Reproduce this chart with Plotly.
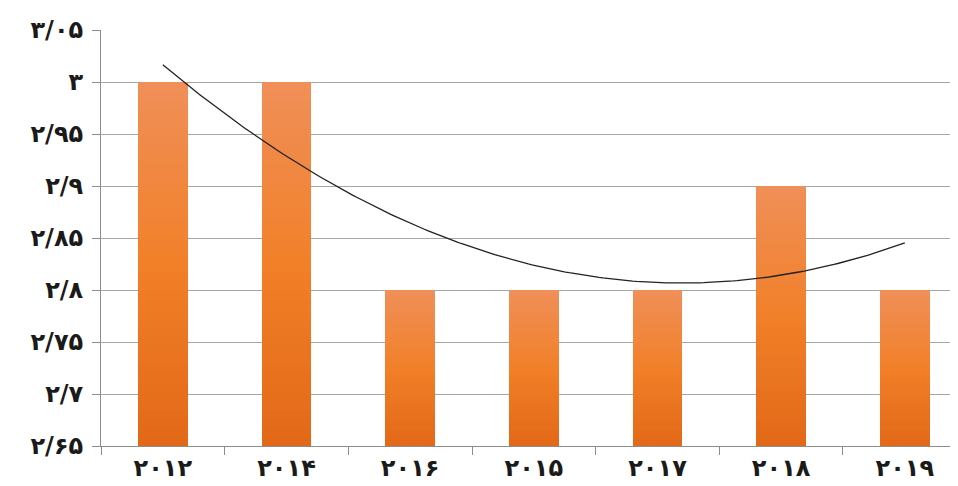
import numpy as np
import plotly.graph_objects as go

categories = ["۲۰۱۲", "۲۰۱۴", "۲۰۱۶", "۲۰۱۵", "۲۰۱۷", "۲۰۱۸", "۲۰۱۹"]
values = [3.0, 3.0, 2.8, 2.8, 2.8, 2.9, 2.8]
y_tick_vals = [2.65, 2.7, 2.75, 2.8, 2.85, 2.9, 2.95, 3.0, 3.05]
y_tick_text = ["۲/۶۵", "۲/۷", "۲/۷۵", "۲/۸", "۲/۸۵", "۲/۹", "۲/۹۵", "۳", "۳/۰۵"]

y_min, y_max = 2.65, 3.05
x_idx = np.arange(len(categories))

fig = go.Figure()

# stepped vertical gradient: light top -> dark bottom
top_col = np.array([240, 143, 88])
mid_col = np.array([242, 128, 40])
bot_col = np.array([226, 104, 24])
steps = 40
for k in range(steps):
    f = 1 - k / steps  # fraction of bar height covered
    if f > 0.5:
        t = (1 - f) / 0.5
        c = top_col + (mid_col - top_col) * t
    else:
        t = (0.5 - f) / 0.5
        c = mid_col + (bot_col - mid_col) * t
    heights = [(v - y_min) * f for v in values]
    fig.add_trace(go.Bar(
        x=x_idx, y=heights, base=y_min, width=0.4,
        marker=dict(color="rgb(%d,%d,%d)" % tuple(c.astype(int)), line=dict(width=0)),
        showlegend=False, hoverinfo="skip",
    ))

# polynomial (order 2) trendline fitted to the data
coef = np.polyfit(x_idx, values, 2)
xs = np.linspace(0, len(categories) - 1, 200)
fig.add_trace(go.Scatter(
    x=xs, y=np.polyval(coef, xs), mode="lines",
    line=dict(color="#222222", width=1.3), showlegend=False, hoverinfo="skip",
))

font = dict(family="DejaVu Sans", size=24, color="#1a1a1a", weight="bold")

fig.update_layout(
    width=958, height=486,
    margin=dict(l=93, r=8, t=17, b=48),
    paper_bgcolor="white", plot_bgcolor="white",
    barmode="overlay", bargap=0,
    xaxis=dict(
        range=[-0.5, 6.43], tickmode="array", tickvals=list(x_idx), ticktext=categories,
        ticks="", showgrid=False, zeroline=False,
        showline=True, linecolor="#8c8c8c", linewidth=1,
        tickfont=font,
        minor=dict(ticks="outside", tick0=-0.5, dtick=1, ticklen=8,
                   tickcolor="#8c8c8c", tickwidth=1, showgrid=False),
    ),
    yaxis=dict(
        range=[y_min, y_max], tickmode="array", tickvals=y_tick_vals, ticktext=y_tick_text,
        ticks="outside", ticklen=8, tickcolor="#8c8c8c",
        showgrid=True, gridcolor="#a6a6a6", gridwidth=1, zeroline=False,
        showline=True, linecolor="#8c8c8c", linewidth=1,
        tickfont=font, ticklabelstandoff=4,
    ),
)

fig.write_html("out.html")
